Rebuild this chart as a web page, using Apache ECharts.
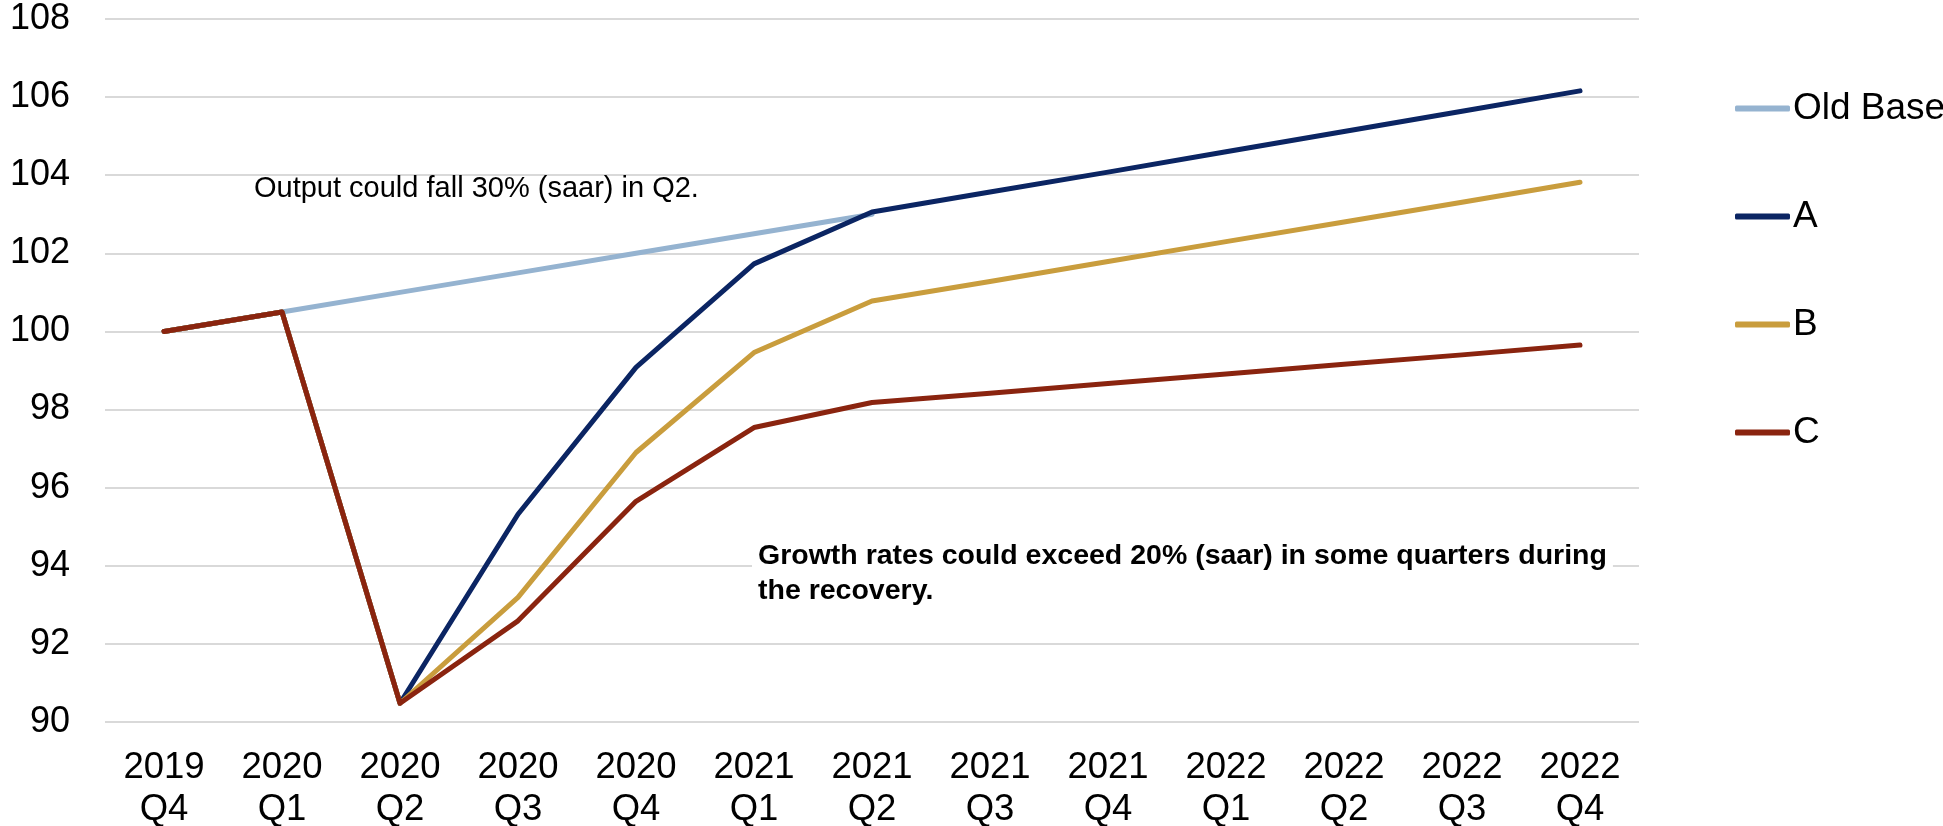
<!DOCTYPE html>
<html>
<head>
<meta charset="utf-8">
<script src="https://cdn.jsdelivr.net/npm/echarts@6/dist/echarts.min.js"></script>
<style>
  html, body { margin: 0; padding: 0; background: #fff; }
  #myChart { width: 1943px; height: 826px; }
</style>
</head>
<body>
<div id="myChart"></div>
<script>
// quarters on the x axis
const years = ["2019", "2020", "2020", "2020", "2020", "2021", "2021", "2021", "2021", "2022", "2022", "2022", "2022"];
const quarters = ["Q4", "Q1", "Q2", "Q3", "Q4", "Q1", "Q2", "Q3", "Q4", "Q1", "Q2", "Q3", "Q4"];

// index levels
const oldBase = [100, 100.5, 101.0, 101.5, 102.0, 102.5, 103.0, null, null, null, null, null, null];
const scenA = [100, 100.5, 90.48, 95.32, 99.08, 101.73, 103.06, 103.57, 104.08, 104.6, 105.12, 105.64, 106.16];
const scenB = [100, 100.5, 90.48, 93.19, 96.9, 99.46, 100.78, 101.28, 101.79, 102.3, 102.8, 103.31, 103.82];
const scenC = [100, 100.5, 90.48, 92.59, 95.65, 97.54, 98.18, 98.42, 98.67, 98.91, 99.16, 99.4, 99.65];

const yTicks = { min: 90, max: 108, step: 2 };

const categories = years.map((y, i) => y + "\n" + quarters[i]);

let myChart = echarts.init(document.getElementById("myChart"));

function lineSeries(name, data, color) {
  return {
    name: name,
    type: "line",
    data: data,
    symbol: "none",
    connectNulls: false,
    lineStyle: { color: color, width: 5, cap: "round", join: "round" },
    itemStyle: { color: color },
  };
}

let option = {
  animation: false,
  textStyle: { fontFamily: "Liberation Sans" },
  grid: { left: 105, right: 304, top: 19, bottom: 104, containLabel: false, outerBoundsMode: "none" },
  legend: {
    orient: "vertical",
    left: 1730,
    top: 85,
    icon: "roundRect",
    itemWidth: 55,
    itemHeight: 6,
    itemGap: 71,
    textStyle: { fontSize: 37, color: "#000", padding: [0, 0, 0, -2] },
    data: ["Old Base", "A", "B", "C"],
  },
  xAxis: {
    type: "category",
    data: categories,
    boundaryGap: true,
    axisLine: { show: false },
    axisTick: { show: false },
    axisLabel: { fontSize: 36.5, color: "#000", lineHeight: 42, margin: 25, interval: 0 },
  },
  yAxis: {
    type: "value",
    min: yTicks.min,
    max: yTicks.max,
    interval: yTicks.step,
    axisLine: { show: false },
    axisTick: { show: false },
    axisLabel: { fontSize: 36, color: "#000", margin: 35 },
    splitLine: { lineStyle: { color: "#d9d9d9", width: 2 } },
  },
  graphic: [
    {
      type: "text",
      z: 100,
      left: 254,
      top: 174,
      style: { text: "Output could fall 30% (saar) in Q2.", fontSize: 29, fill: "#000", fontFamily: "Liberation Sans" },
    },
    {
      type: "text",
      z: 100,
      left: 752,
      top: 539,
      style: {
        text: "Growth rates could exceed 20% (saar) in some quarters during\nthe recovery.",
        fontSize: 28.5,
        lineHeight: 35,
        fontWeight: "bold",
        fill: "#000",
        backgroundColor: "#fff",
        padding: [0, 6, 0, 6],
        fontFamily: "Liberation Sans",
      },
    },
  ],
  series: [
    lineSeries("Old Base", oldBase, "#95b3d0"),
    lineSeries("A", scenA, "#0b2563"),
    lineSeries("B", scenB, "#c99d3d"),
    lineSeries("C", scenC, "#8a240f"),
  ],
};

myChart.setOption(option);
</script>
</body>
</html>
